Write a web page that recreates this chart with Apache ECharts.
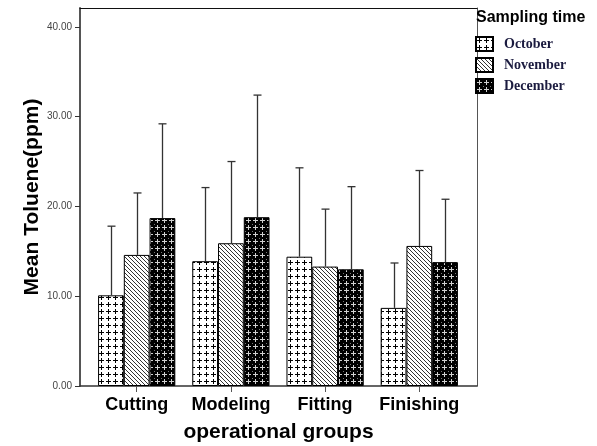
<!DOCTYPE html>
<html>
<head>
<meta charset="utf-8">
<script src="https://cdn.jsdelivr.net/npm/echarts@6/dist/echarts.min.js"></script>
<style>html,body{margin:0;padding:0;background:#fff}#c{width:597px;height:446px}</style>
</head>
<body>
<div id="c"></div>
<script>
const categories = ['Cutting', 'Modeling', 'Fitting', 'Finishing'];
const seriesNames = ['October', 'November', 'December'];
const october = [10.1, 13.9, 14.4, 8.7];
const octoberUpper = [17.8, 22.1, 24.3, 13.7];
const november = [14.6, 15.9, 13.3, 15.6];
const novemberUpper = [21.5, 25.0, 19.7, 24.0];
const december = [18.7, 18.8, 13.0, 13.8];
const decemberUpper = [29.2, 32.4, 22.2, 20.8];
const yTicks = [0, 10, 20, 30, 40];
const yMax = 42.1;

function tile(w, h, draw) {
  const c = document.createElement('canvas');
  c.width = w; c.height = h;
  draw(c.getContext('2d'));
  return c;
}
const patOct = tile(7, 7, g => {
  g.fillStyle = '#fff'; g.fillRect(0, 0, 7, 7);
  g.fillStyle = '#000';
  g.fillRect(1, 3, 5, 1); g.fillRect(3, 1, 1, 5);
});
const patNov = tile(4, 4, g => {
  g.fillStyle = '#fff'; g.fillRect(0, 0, 4, 4);
  g.strokeStyle = '#333'; g.lineWidth = 1;
  for (let k = -4; k <= 4; k += 4) {
    g.beginPath(); g.moveTo(k - 1, -1); g.lineTo(k + 5, 5); g.stroke();
  }
});
const patDec = tile(7, 7, g => {
  g.fillStyle = '#000'; g.fillRect(0, 0, 7, 7);
  g.fillStyle = '#d0d0d0';
  g.fillRect(1, 3, 5, 1); g.fillRect(3, 1, 1, 5);
  g.fillStyle = '#777';
  g.fillRect(0, 0, 1, 1);
});
const patterns = [patOct, patNov, patDec];
const values = [october, november, december];
const uppers = [octoberUpper, novemberUpper, decemberUpper];

const barCatGap = 0.18;
const barSeries = seriesNames.map((n, i) => ({
  name: n, type: 'bar', xAxisIndex: 2, yAxisIndex: 2,
  data: values[i], barGap: '0%', barCategoryGap: (barCatGap * 100) + '%',
  itemStyle: { color: { image: patterns[i], repeat: 'repeat' }, borderColor: '#000', borderWidth: 1 },
  emphasis: { disabled: true }, z: 2
}));
const errSeries = seriesNames.map((n, i) => ({
  name: n + ' error', type: 'custom', xAxisIndex: 2, yAxisIndex: 2, z: 3,
  data: categories.map((c, j) => [j, values[i][j], uppers[i][j]]),
  renderItem: (params, api) => {
    const band = api.size([1, 0])[0];
    const bw = band * (1 - barCatGap) / 3;
    const off = (i - 1) * bw;
    const base = api.coord([api.value(0), api.value(1)]);
    const top = api.coord([api.value(0), api.value(2)]);
    const x = Math.round(base[0] + off) + 0.5;
    const st = { stroke: '#333', lineWidth: 1.3 };
    return { type: 'group', children: [
      { type: 'line', shape: { x1: x, y1: base[1], x2: x, y2: top[1] }, style: st },
      { type: 'line', shape: { x1: x - 4, y1: top[1], x2: x + 4, y2: top[1] }, style: st }
    ] };
  }
}));

const chart = echarts.init(document.getElementById('c'), null, { renderer: 'canvas' });
chart.setOption({
  animation: false,
  title: { text: 'Sampling time', left: 476, top: 10, padding: 0,
    textStyle: { fontFamily: 'Liberation Sans', fontWeight: 'bold', fontSize: 16, color: '#000' } },
  legend: {
    data: seriesNames, orient: 'vertical', left: 475, top: 36, padding: 0,
    itemWidth: 17, itemHeight: 14, itemGap: 5, icon: 'rect',
    textStyle: { fontFamily: 'Liberation Serif', fontWeight: 'bold', fontSize: 14, color: '#1b1b3f', padding: [0, 0, 0, 6] }
  },
  grid: [
    { left: 80, right: 120, top: 8, bottom: 60, outerBoundsMode: 'none', containLabel: false },
    { left: 89.6, right: 130.6, top: 8, bottom: 60, outerBoundsMode: 'none', containLabel: false }
  ],
  xAxis: [
    { gridIndex: 0, type: 'value', min: 0, max: 1, position: 'bottom',
      axisLine: { show: true, onZero: false, lineStyle: { color: '#333', width: 1.5 } },
      axisTick: { show: false }, axisLabel: { show: false }, splitLine: { show: false },
      name: 'operational groups', nameLocation: 'middle', nameGap: 36, nameMoveOverlap: false,
      nameTextStyle: { fontFamily: 'Liberation Sans', fontWeight: 'bold', fontSize: 21, color: '#000' } },
    { gridIndex: 0, type: 'value', min: 0, max: 1, position: 'top',
      axisLine: { show: true, onZero: false, lineStyle: { color: '#111', width: 1 } },
      axisTick: { show: false }, axisLabel: { show: false }, splitLine: { show: false } },
    { gridIndex: 1, type: 'category', data: categories,
      axisLine: { show: false },
      axisTick: { show: true, alignWithLabel: true, length: 6, lineStyle: { color: '#555' } },
      axisLabel: { interval: 0, margin: 10, fontFamily: 'Liberation Sans', fontWeight: 'bold', fontSize: 18, color: '#000' } }
  ],
  yAxis: [
    { gridIndex: 0, type: 'value', min: 0, max: yMax, position: 'left',
      axisLine: { show: true, onZero: false, lineStyle: { color: '#555', width: 2 } },
      axisTick: { show: true, length: 5, customValues: yTicks, lineStyle: { color: '#333' } },
      axisLabel: { customValues: yTicks, margin: 8, formatter: v => v.toFixed(2),
        fontFamily: 'Liberation Sans', fontSize: 10, color: '#444' },
      splitLine: { show: false },
      name: 'Mean Toluene(ppm)', nameLocation: 'middle', nameGap: 37, nameMoveOverlap: false,
      nameTextStyle: { fontFamily: 'Liberation Sans', fontWeight: 'bold', fontSize: 21, color: '#000' } },
    { gridIndex: 0, type: 'value', min: 0, max: yMax, position: 'right',
      axisLine: { show: true, onZero: false, lineStyle: { color: '#555', width: 1 } },
      axisTick: { show: false }, axisLabel: { show: false }, splitLine: { show: false } },
    { gridIndex: 1, type: 'value', min: 0, max: yMax, show: false, splitLine: { show: false } }
  ],
  series: barSeries.concat(errSeries)
});
</script>
</body>
</html>
